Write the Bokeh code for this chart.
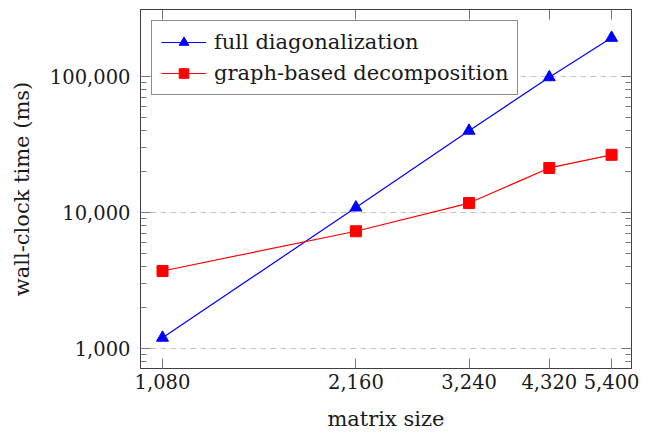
from bokeh.plotting import figure
from bokeh.models import (FixedTicker, NumeralTickFormatter, LogAxis, Legend, Range1d,
                          CustomJSTickFormatter)
from bokeh.embed import file_html
from bokeh.resources import INLINE

matrix_size = [1080, 2160, 3240, 4320, 5400]
full_diag = [1200, 10900, 40000, 99000, 193000]
graph_decomp = [3720, 7290, 11750, 21300, 26600]
x_ticks = [1080, 2160, 3240, 4320, 5400]
y_major = [1000, 10000, 100000]
y_minor = [800, 900] + [m * 10 ** e for e in (3, 4) for m in range(2, 10)]

FONT = "DejaVu Serif"
FS = "21px"
TFS = "19.5px"
AXIS_COLOR = "#404040"
TICK_COLOR = "#777777"
TEXT_COLOR = "#1a1a1a"

p = figure(width=648, height=433, x_axis_type="log", y_axis_type="log",
           x_range=Range1d(998, 5800), y_range=Range1d(713, 311900),
           output_backend="svg", toolbar_location=None,
           min_border_left=140, min_border_right=17, min_border_top=9, min_border_bottom=65)

p.outline_line_color = AXIS_COLOR
p.xgrid.visible = False
p.ygrid.grid_line_color = "#c4c4c4"
p.ygrid.grid_line_dash = "6 4"
p.ygrid.grid_line_width = 1

xt = FixedTicker(ticks=x_ticks, minor_ticks=[])
yt = FixedTicker(ticks=y_major, minor_ticks=y_minor)


def style(ax, ticker, labels=True):
    ax.ticker = ticker
    ax.axis_line_color = AXIS_COLOR
    ax.major_tick_in = 10
    ax.major_tick_out = 0
    ax.minor_tick_in = 6
    ax.minor_tick_out = 0
    ax.major_tick_line_color = TICK_COLOR
    ax.minor_tick_line_color = TICK_COLOR
    ax.major_label_text_font = FONT
    ax.major_label_text_color = TEXT_COLOR
    ax.axis_label_text_font = FONT
    ax.axis_label_text_font_size = FS
    ax.axis_label_text_font_style = "normal"
    ax.axis_label_text_color = TEXT_COLOR
    ax.major_label_text_font_size = TFS
    if labels:
        ax.formatter = NumeralTickFormatter(format="0,0")
    else:
        ax.formatter = CustomJSTickFormatter(code="return '';")
        ax.major_label_standoff = 0


xa = p.xaxis[0]
style(xa, xt)
xa.axis_label = "matrix size"
xa.major_label_standoff = 5
xa.axis_label_standoff = 15

ya = p.yaxis[0]
style(ya, yt)
ya.axis_label = "wall-clock time (ms)"
ya.major_label_standoff = 10
ya.axis_label_standoff = 13

top = LogAxis()
style(top, xt, labels=False)
p.add_layout(top, "above")
right = LogAxis()
style(right, yt, labels=False)
p.add_layout(right, "right")

r1 = p.line(matrix_size, full_diag, line_color="#0000ff", line_width=1.2)
s1 = p.scatter(matrix_size, full_diag, marker="triangle", size=12,
               fill_color="#0000ff", line_color="#0000ff")
r2 = p.line(matrix_size, graph_decomp, line_color="#ff0000", line_width=1.2)
s2 = p.scatter(matrix_size, graph_decomp, marker="square", size=11,
               fill_color="#ff0000", line_color="#ff0000")

legend = Legend(items=[("full diagonalization", [r1, s1]),
                       ("graph-based decomposition", [r2, s2])],
                location="top_left")
legend.label_text_font = FONT
legend.label_text_font_size = FS
legend.label_text_color = TEXT_COLOR
legend.border_line_color = TEXT_COLOR
legend.border_line_width = 1
legend.background_fill_alpha = 1
legend.glyph_width = 45
legend.glyph_height = 24
legend.label_standoff = 8
legend.padding = 9
legend.spacing = 7
legend.margin = 11
p.add_layout(legend)

open("out.html", "w").write(file_html(p, INLINE))
